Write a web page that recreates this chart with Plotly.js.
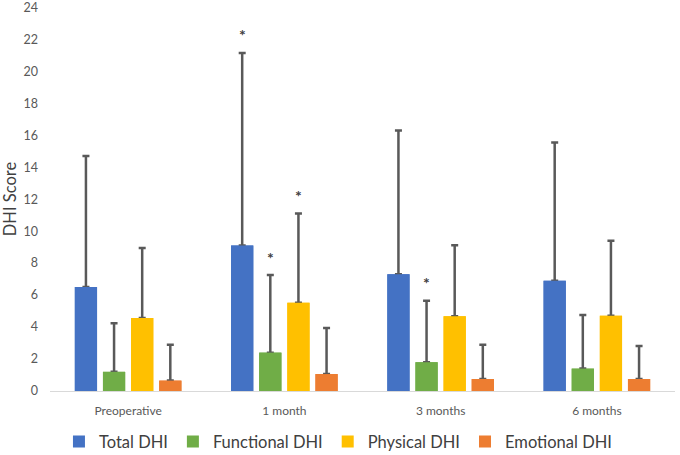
<html>
	<head>
		<meta charset="utf-8" />
		<title>DHI Score</title>
		<script src="https://cdn.plot.ly/plotly-3.0.1.min.js"></script>
	</head>

	<body style="margin:0">

	  <div id="myDiv" style="width:680px;height:455px"></div>

		<script>

const timepoints = ['Preoperative', '1 month', '3 months', '6 months'];

const seriesNames = ['Total DHI', 'Functional DHI', 'Physical DHI', 'Emotional DHI'];
const seriesColors = ['#4472C4', '#70AD47', '#FFC000', '#ED7D31'];

// means
const totalDHI      = [6.5, 9.1, 7.3, 6.9];
const functionalDHI = [1.2, 2.4, 1.8, 1.4];
const physicalDHI   = [4.56, 5.52, 4.67, 4.71];
const emotionalDHI  = [0.65, 1.06, 0.75, 0.75];

// SD (upper arm only)
const totalSD      = [8.2, 12.05, 9.0, 8.65];
const functionalSD = [3.04, 4.85, 3.85, 3.35];
const physicalSD   = [4.38, 5.58, 4.45, 4.69];
const emotionalSD  = [2.25, 2.88, 2.15, 2.06];

// significant differences: [timepoint index, series index]
const stars = [[1, 0], [1, 1], [1, 2], [2, 1]];

const means = [totalDHI, functionalDHI, physicalDHI, emotionalDHI];
const sds = [totalSD, functionalSD, physicalSD, emotionalSD];

var bargap = 0.28;
var yRange = [0, 24.02];

var data = [];
// first pass: bars + error bars
for (var s = 0; s < seriesNames.length; s++) {
	data.push({
		x: timepoints,
		y: means[s],
		type: 'bar',
		name: seriesNames[s],
		marker: { color: seriesColors[s] },
		error_y: {
			type: 'data',
			symmetric: false,
			array: sds[s],
			arrayminus: means[s].map(function () { return 0; }),
			color: '#595959',
			thickness: 2.5,
			width: 3.5
		},
		hoverinfo: 'y'
	});
}
// second pass on an overlaid subplot: same bars again, hides the lower caps
for (var s = 0; s < seriesNames.length; s++) {
	data.push({
		x: timepoints,
		y: means[s],
		type: 'bar',
		xaxis: 'x2',
		yaxis: 'y2',
		showlegend: false,
		marker: { color: seriesColors[s] },
		hoverinfo: 'skip'
	});
}

var slot = (1 - bargap) / seriesNames.length;
var annotations = stars.map(function (st) {
	var t = st[0], s = st[1];
	return {
		x: t + (s - (seriesNames.length - 1) / 2) * slot,
		y: means[s][t] + sds[s][t],
		xref: 'x', yref: 'y',
		text: '<b>*</b>',
		showarrow: false,
		yanchor: 'middle',
		yshift: 18,
		font: { family: 'Lato, sans-serif', size: 16, color: '#404040' }
	};
});

var layout = {
	width: 680,
	height: 455,
	margin: { l: 50, r: 5, t: 7, b: 64 },
	barmode: 'group',
	bargap: bargap,
	bargroupgap: 0.21,
	font: { family: 'Lato, sans-serif', color: '#595959' },
	showlegend: true,
	legend: {
		orientation: 'h',
		xref: 'container', yref: 'container',
		x: 0.497, xanchor: 'center',
		y: 0.029, yanchor: 'middle',
		font: { size: 16.5, color: '#404040' },
		itemwidth: 30
	},
	xaxis: {
		showline: true,
		linecolor: '#d9d9d9',
		linewidth: 1,
		ticks: '',
		ticklabelstandoff: 9,
		tickfont: { size: 12, color: '#595959' }
	},
	yaxis: {
		range: yRange,
		dtick: 2,
		showgrid: false,
		zeroline: false,
		showline: false,
		ticks: '',
		ticklabelstandoff: 11,
		ticklabeloverflow: 'allow',
		tickfont: { size: 12.5, color: '#595959' },
		title: { text: 'DHI Score', font: { size: 16.5, color: '#404040' }, standoff: 8 }
	},
	xaxis2: { overlaying: 'x', visible: false, fixedrange: true },
	yaxis2: { overlaying: 'y', visible: false, range: yRange, fixedrange: true },
	annotations: annotations
};

Plotly.newPlot('myDiv', data, layout, { displayModeBar: false });

		</script>

	</body>
</html>
